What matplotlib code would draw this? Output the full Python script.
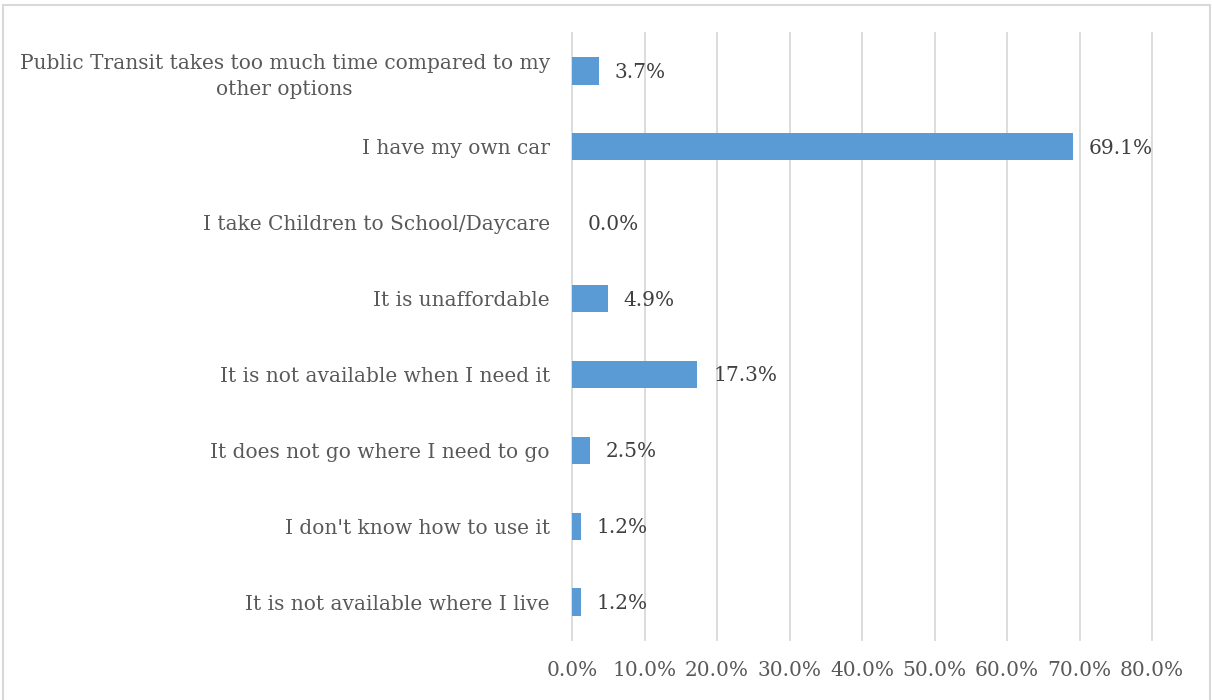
import matplotlib.pyplot as plt
from matplotlib.patches import Rectangle

# survey answers, top to bottom
reasons = [
    'Public Transit takes too much time compared to my\nother options',
    'I have my own car',
    'I take Children to School/Daycare',
    'It is unaffordable',
    'It is not available when I need it',
    'It does not go where I need to go',
    "I don't know how to use it",
    'It is not available where I live',
]
shares = [3.7, 69.1, 0.0, 4.9, 17.3, 2.5, 1.2, 1.2]
ticks = [0, 10, 20, 30, 40, 50, 60, 70, 80]

plt.rcParams['font.family'] = ['DejaVu Serif']

fig = plt.figure(figsize=(12.12, 7.0), dpi=100)
ax = fig.add_axes([572 / 1212, 1 - 640 / 700, (1152 - 572) / 1212, (640 - 33) / 700])

# light border round the chart area
fig.patches.append(Rectangle((3 / 1212, -0.05), 1207 / 1212, 1.05 - 5 / 700,
                             transform=fig.transFigure, fill=False,
                             edgecolor='#D9D9D9', linewidth=1.5))

y = list(range(len(reasons)))
ax.barh(y, shares, height=0.36, color='#5B9BD5', zorder=3)
for yi, v in zip(y, shares):
    ax.text(v + 2.2, yi + 0.02, f'{v:.1f}%', va='center', ha='left',
            fontsize=14.5, color='#404040', zorder=4)

ax.set_xlim(0, 80)
ax.set_ylim(len(reasons) - 0.5, -0.5)
ax.set_xticks(ticks)
ax.set_xticklabels([f'{t:.1f}%' for t in ticks])
ax.set_yticks(y)
ax.set_yticklabels(reasons)
ax.grid(axis='x', color='#D9D9D9', linewidth=1.3, zorder=0)
for gl in ax.get_xgridlines():
    gl.set_clip_on(False)
for s in ax.spines.values():
    s.set_visible(False)
ax.tick_params(axis='both', length=0, labelsize=14.5, labelcolor='#595959')
ax.tick_params(axis='x', pad=15)
ax.tick_params(axis='y', pad=16)
for lbl in ax.get_yticklabels():
    lbl.set_multialignment('center')
    lbl.set_linespacing(1.45)

fig.savefig('out.png', dpi=100)
